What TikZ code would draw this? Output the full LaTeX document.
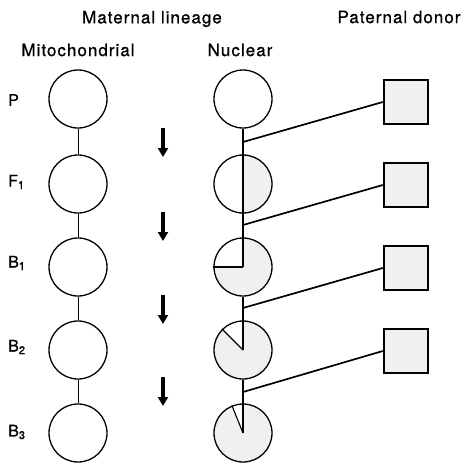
\documentclass[tikz,border=0pt]{standalone}
\usepackage{fontspec}
\setmainfont{TeX Gyre Heros}[LetterSpace=6, FakeBold=0.8]
\usetikzlibrary{arrows.meta}
\definecolor{stip}{gray}{0.94}
\begin{document}
\begin{tikzpicture}[x=1pt,y=1pt,
  cell/.style={draw, circle, line width=1.3pt, minimum size=58pt, inner sep=0pt},
  donor/.style={draw, line width=2.4pt, fill=stip, minimum size=44pt, inner sep=0pt},
  mlink/.style={line width=1pt},
  nlink/.style={line width=1.7pt},
  split/.style={line width=1.1pt},
  gen/.style={font=\fontsize{16}{19}\selectfont, anchor=west, inner sep=0pt},
  head/.style={font=\fontsize{17}{20}\selectfont},
  genarrow/.style={-{Triangle[width=10pt,length=9pt]}, line width=4pt}
]
\useasboundingbox (0,0) rectangle (471,-464);

% column headings
\node[head] (hmat) at (152,-19) {Maternal lineage};
\node[head] (hpat) at (399,-17) {Paternal donor};
\node[head] (hmit) at (78,-50) {Mitochondrial};
\node[head] (hnuc) at (240,-50) {Nuclear};

% generation labels
\node[gen] (gP)  at (8,-100) {P};
\node[gen] (gF1) at (8,-182) {F\textsubscript{1}};
\node[gen] (gB1) at (8,-263) {B\textsubscript{1}};
\node[gen] (gB2) at (8,-347) {B\textsubscript{2}};
\node[gen] (gB3) at (8,-432) {B\textsubscript{3}};

% paternal share of the nuclear genome (shaded sectors)
\foreach \y/\t in {184/180, 267/90, 350/45, 433/22.5}
  \fill[stip] (243,-\y) -- ++(90+\t:29pt)
     arc[start angle=90+\t, end angle=450, radius=29pt] -- cycle;

% mitochondrial and nuclear cells
\foreach \i/\y in {0/99, 1/184, 2/267, 3/350, 4/433} {
  \node[cell] (m\i) at (78,-\y) {};
  \node[cell] (n\i) at (243,-\y) {};
}

% sector boundaries inside the nuclear cells
\foreach \i/\a in {1/270, 2/180, 3/135, 4/112.5} {
  \draw[split] (n\i.center) -- (n\i.north);
  \draw[split] (n\i.center) -- (n\i.\a);
}

% links down each lineage
\foreach \i/\j in {0/1, 1/2, 2/3, 3/4} {
  \draw[mlink] (m\i.south) -- (m\j.north);
  \draw[nlink] (n\i.south) -- (n\j.north);
}

% paternal donors joining the nuclear line
\foreach \k/\y/\jy in {1/102/142, 2/185/225, 3/268/308, 4/351/392} {
  \node[donor] (d\k) at (406,-\y) {};
  \coordinate (j\k) at (243,-\jy);
  \draw[nlink] (d\k.west) -- (j\k);
}

% generation arrows
\foreach \k/\y in {1/128, 2/212, 3/295, 4/377} {
  \coordinate (as\k) at (163,-\y);
  \coordinate (ae\k) at (163,-\y-29);
  \draw[genarrow] (as\k) -- (ae\k);
}
\end{tikzpicture}
\end{document}
